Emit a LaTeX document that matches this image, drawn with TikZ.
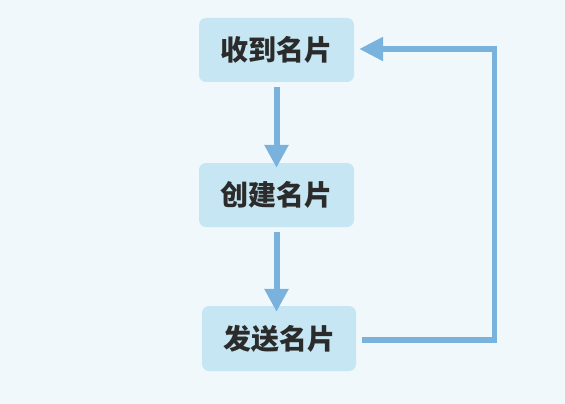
\documentclass[tikz,border=0pt]{standalone}
\usepackage{fontspec}
\newfontfamily\cjk{Noto Sans CJK SC}
\usetikzlibrary{arrows.meta}
\definecolor{bgc}{HTML}{F0F8FC}
\definecolor{boxc}{HTML}{C5E6F2}
\definecolor{arrc}{HTML}{79B2DD}
\definecolor{txtc}{HTML}{2B2B2B}
\tikzset{
  card/.style={rectangle, rounded corners=7pt, fill=boxc, draw=none,
    minimum width=155pt, minimum height=64pt, inner sep=0pt,
    text=txtc, font=\cjk\bfseries\fontsize{28pt}{30pt}\selectfont},
  arr/.style={draw=arrc, line width=6pt, -{Triangle[length=23pt,width=23pt]}},
  feed/.style={draw=arrc, line width=5.5pt, line join=miter, -{Triangle[length=24pt,width=23pt]}}
}
\begin{document}
\begin{tikzpicture}[x=1pt,y=-1pt]
\fill[bgc] (0,0) rectangle (565,404);
\useasboundingbox (0,0) rectangle (565,404);
\node[card] (b1) at (276.5,50) {收到名片};
\node[card] (b2) at (276.5,195) {创建名片};
\node[card, minimum width=154pt, minimum height=65pt] (b3) at (279,338.5) {发送名片};
\draw[arr] ([yshift=-5pt]b1.south) -- ([yshift=-5pt]b2.north);
\coordinate (t2) at ([yshift=-6pt]b3.north -| b2.south);
\draw[arr] ([yshift=-5pt]b2.south) -- (t2);
\coordinate (c1) at (494.5,340);
\draw[feed] ([xshift=6pt,yshift=-1.5pt]b3.east) -- (c1) |- ([xshift=5pt,yshift=1pt]b1.east);
\end{tikzpicture}
\end{document}
